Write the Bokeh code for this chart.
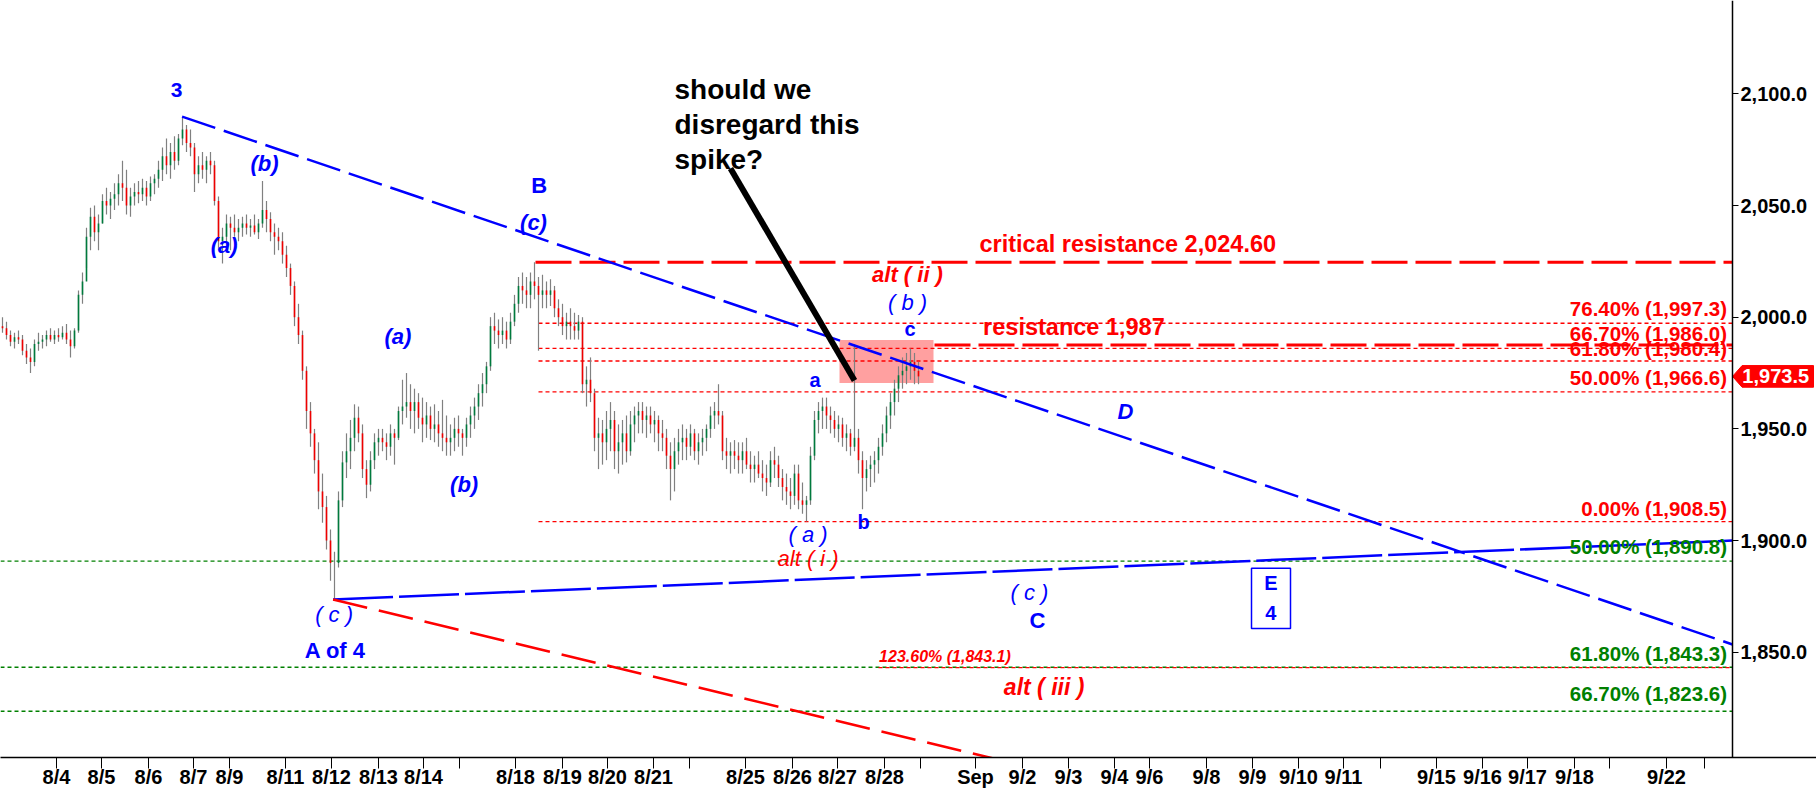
from bokeh.plotting import figure
from bokeh.models import Range1d, FixedTicker, NumeralTickFormatter, Label, ColumnDataSource
from bokeh.embed import file_html
from bokeh.resources import INLINE

# ---------------- data ----------------
first_open = 1996.0
high = [2000, 1998, 1994, 1993, 1994, 1992, 1988, 1986, 1990, 1993,
        1992, 1994, 1995, 1994, 1995, 1996, 1997, 1994, 1995, 2012,
        2020, 2040, 2049, 2050, 2046, 2055, 2058, 2056, 2060, 2064,
        2070, 2066, 2058, 2060, 2061, 2062, 2061, 2063, 2064, 2070,
        2076, 2080, 2078, 2081, 2082, 2089.4, 2086, 2084, 2078, 2072,
        2074, 2072, 2074, 2070, 2054, 2040, 2046, 2045, 2046, 2044,
        2045, 2046, 2044, 2046, 2044, 2061, 2052, 2047, 2042, 2040,
        2038, 2032, 2024, 2016, 2006, 1994, 1978, 1962, 1950, 1944,
        1930, 1920, 1905, 1895, 1922, 1940, 1948, 1954, 1961, 1960,
        1952, 1936, 1940, 1948, 1950, 1950, 1948, 1952, 1950, 1960,
        1972, 1975, 1970, 1968, 1966, 1964, 1962, 1960, 1961, 1958,
        1963, 1956, 1952, 1955, 1956, 1950, 1955, 1960, 1964, 1970,
        1975, 1980, 2000, 2002, 1999, 2000, 1998, 2002, 2010, 2018,
        2020, 2018, 2020, 2024.6, 2018, 2019, 2016, 2017, 2014, 2008,
        2006, 2002, 2004, 2002, 2001, 2000, 1978, 1982, 1968, 1955,
        1954, 1958, 1962, 1958, 1952, 1954, 1956, 1958, 1960, 1962,
        1962, 1960, 1960, 1958, 1956, 1954, 1950, 1944, 1946, 1950,
        1952, 1950, 1952, 1950, 1948, 1950, 1952, 1960, 1962, 1970,
        1958, 1946, 1944, 1945, 1944, 1944, 1946, 1940, 1938, 1940,
        1936, 1934, 1940, 1942, 1938, 1932, 1930, 1928, 1934, 1934,
        1926, 1920, 1942, 1958, 1962, 1964, 1964, 1960, 1958, 1956,
        1955, 1952, 1950, 1988, 1950, 1940, 1936, 1938, 1940, 1946,
        1952, 1960, 1966, 1972, 1978, 1982, 1984, 1986, 1984, 1980]
low = [1993, 1990, 1987, 1986, 1988, 1983, 1979, 1975, 1978, 1985,
       1986, 1987, 1989, 1988, 1989, 1990, 1988, 1982, 1986, 1993,
       2006, 2022, 2030, 2034, 2030, 2042, 2046, 2044, 2048, 2050,
       2052, 2046, 2045, 2050, 2051, 2052, 2050, 2052, 2055, 2058,
       2061, 2064, 2062, 2066, 2068, 2077, 2074, 2072, 2056, 2060,
       2062, 2060, 2064, 2050, 2030, 2024, 2032, 2030, 2036, 2034,
       2036, 2037, 2036, 2037, 2035, 2040, 2038, 2034, 2028, 2030,
       2024, 2018, 2010, 1996, 1988, 1972, 1950, 1942, 1930, 1914,
       1908, 1896, 1882, 1874, 1888, 1915, 1928, 1932, 1940, 1944,
       1928, 1919, 1922, 1932, 1938, 1940, 1936, 1938, 1934, 1945,
       1952, 1955, 1950, 1948, 1950, 1944, 1946, 1945, 1944, 1942,
       1940, 1938, 1938, 1940, 1942, 1938, 1942, 1946, 1950, 1954,
       1960, 1966, 1976, 1988, 1986, 1988, 1986, 1988, 1996, 2002,
       2006, 2004, 2004, 2008, 1985, 2004, 2004, 2005, 2000, 1996,
       1992, 1990, 1990, 1990, 1990, 1966, 1960, 1962, 1940, 1932,
       1934, 1936, 1940, 1932, 1930, 1934, 1935, 1938, 1944, 1948,
       1948, 1946, 1948, 1944, 1940, 1940, 1932, 1918, 1922, 1934,
       1936, 1936, 1938, 1936, 1934, 1938, 1940, 1946, 1950, 1952,
       1936, 1932, 1930, 1932, 1930, 1930, 1932, 1926, 1926, 1928,
       1922, 1920, 1924, 1928, 1924, 1918, 1916, 1914, 1916, 1914,
       1912, 1908.5, 1916, 1936, 1948, 1950, 1950, 1948, 1946, 1944,
       1942, 1940, 1938, 1940, 1930, 1914, 1922, 1924, 1926, 1930,
       1938, 1944, 1950, 1956, 1962, 1968, 1970, 1972, 1970, 1970]
close = [1995, 1992, 1989, 1991, 1990, 1985, 1982, 1980, 1988, 1989,
         1990, 1992, 1990, 1992, 1991, 1993, 1990, 1987, 1994, 2010,
         2016, 2036, 2045, 2038, 2042, 2052, 2050, 2053, 2055, 2060,
         2058, 2050, 2054, 2056, 2055, 2058, 2054, 2060, 2062, 2066,
         2072, 2068, 2074, 2070, 2080, 2084, 2078, 2076, 2064, 2068,
         2066, 2070, 2068, 2052, 2034, 2036, 2042, 2040, 2038, 2040,
         2042, 2040, 2041, 2038, 2042, 2048, 2044, 2038, 2036, 2034,
         2028, 2022, 2014, 2000, 1992, 1976, 1958, 1948, 1936, 1922,
         1915, 1900, 1890, 1890, 1918, 1935, 1940, 1946, 1955, 1948,
         1932, 1925, 1936, 1944, 1946, 1944, 1942, 1948, 1946, 1958,
         1960, 1962, 1958, 1962, 1955, 1952, 1956, 1950, 1952, 1948,
         1946, 1944, 1946, 1950, 1948, 1946, 1952, 1956, 1960, 1966,
         1970, 1978, 1996, 1994, 1992, 1994, 1990, 1998, 2006, 2014,
         2012, 2010, 2016, 2014, 2010, 2012, 2010, 2012, 2004, 2000,
         1996, 1998, 1996, 1994, 1998, 1970, 1972, 1966, 1946, 1948,
         1944, 1950, 1954, 1940, 1944, 1948, 1940, 1952, 1956, 1958,
         1954, 1956, 1952, 1954, 1948, 1946, 1938, 1932, 1940, 1944,
         1946, 1942, 1948, 1940, 1944, 1946, 1950, 1956, 1958, 1956,
         1940, 1938, 1940, 1938, 1936, 1940, 1934, 1932, 1934, 1930,
         1928, 1926, 1936, 1934, 1928, 1924, 1922, 1920, 1930, 1918,
         1916, 1918, 1938, 1954, 1958, 1960, 1956, 1954, 1950, 1952,
         1946, 1948, 1942, 1946, 1936, 1928, 1932, 1934, 1936, 1942,
         1948, 1956, 1962, 1968, 1974, 1976, 1978, 1980, 1976, 1973.5]

x_ticks = [13.5, 24.75, 36.5, 47.75, 56.75, 70.75, 82.25, 94, 105.25, 114.25,
           128.25, 140, 151.25, 162.75, 171.75, 185.75, 197.5, 208.75, 220.5, 229.5,
           243.25, 255, 266.5, 278, 286.75, 301, 312.5, 324, 335.25, 344.5,
           358.5, 370, 381.25, 393, 401.75, 416, 425.5]
x_tick_labels = ["8/4", "8/5", "8/6", "8/7", "8/9", "8/11", "8/12", "8/13", "8/14", "",
                 "8/18", "8/19", "8/20", "8/21", "", "8/25", "8/26", "8/27", "8/28", "",
                 "Sep", "9/2", "9/3", "9/4", "9/6", "9/8", "9/9", "9/10", "9/11", "",
                 "9/15", "9/16", "9/17", "9/18", "", "9/22", ""]
y_ticks = [1850, 1900, 1950, 2000, 2050, 2100]

red_fib_levels = [1997.3, 1986.0, 1980.4, 1966.6, 1908.5]
red_fib_texts = ["76.40% (1,997.3)", "66.70% (1,986.0)", "61.80% (1,980.4)",
                 "50.00% (1,966.6)", "0.00% (1,908.5)"]
green_fib_levels = [1890.8, 1843.3, 1823.6]
green_fib_texts = ["50.00% (1,890.8)", "61.80% (1,843.3)", "66.70% (1,823.6)"]
ext_level = 1843.1
critical_level = 2024.60
resistance_level = 1987.6
last_price = 1973.5

# ---------------- figure ----------------
X0, X1, XR = -0.5, 432.5, 453.5     # frame left, price-axis position, frame right
Y0, Y1 = 1802.9, 2141.77
p = figure(width=1816, height=796, x_range=Range1d(X0, XR), y_range=Range1d(Y0, Y1),
           output_backend="svg", toolbar_location=None, y_axis_location="right",
           min_border_left=0, min_border_top=0, min_border_right=0, min_border_bottom=39)
p.outline_line_color = None
p.xgrid.visible = False
p.ygrid.visible = False
p.background_fill_color = "white"

FONT = "Liberation Sans"
BLUE = "#0000FF"
RED = "#FF0000"
GREEN = "#008000"

# axes
p.xaxis.ticker = FixedTicker(ticks=x_ticks)
p.xaxis.major_label_overrides = {t: l for t, l in zip(x_ticks, x_tick_labels)}
p.yaxis.ticker = FixedTicker(ticks=y_ticks)
p.yaxis.formatter = NumeralTickFormatter(format="0,0.0")
p.yaxis.fixed_location = X1
for ax in (p.xaxis[0], p.yaxis[0]):
    ax.axis_line_color = "black"
    ax.axis_line_width = 1.5
    ax.major_tick_line_color = "black"
    ax.major_tick_line_width = 1
    ax.minor_tick_line_color = None
    ax.minor_tick_out = 0
    ax.minor_tick_in = 0
    ax.major_tick_in = 0
    ax.major_label_text_font = FONT
    ax.major_label_text_font_style = "bold"
    ax.major_label_text_font_size = "20px"
    ax.major_label_text_color = "black"
p.xaxis.major_tick_out = 11
p.xaxis.major_label_standoff = -3
p.yaxis.major_tick_out = 6
p.yaxis.major_label_standoff = 2

# pink box (under bars)
p.quad(left=[209.25], right=[232.75], bottom=[1970.6], top=[1989.8],
       fill_color="#FF6060", fill_alpha=0.6, line_color=None)

# horizontal fib lines
p.segment(x0=[134.0] * len(red_fib_levels), x1=[X1] * len(red_fib_levels),
          y0=red_fib_levels, y1=red_fib_levels, line_color=RED, line_width=1.3, line_dash="4 3")
p.segment(x0=[X0] * len(green_fib_levels), x1=[X1] * len(green_fib_levels),
          y0=green_fib_levels, y1=green_fib_levels, line_color=GREEN, line_width=1.3, line_dash="4 3")
p.segment(x0=[219.0], x1=[X1], y0=[ext_level], y1=[ext_level],
          line_color=RED, line_width=1.3, line_dash="4 3")

# bars
n = len(close)
xs = list(range(n))
opens = [first_open] + close[:-1]
body_col = ["#007A3D" if c >= o else "#EE0000" for o, c in zip(opens, close)]
src = ColumnDataSource(dict(x=xs, h=high, l=low, o=opens, c=close, col=body_col))
p.segment(x0="x", x1="x", y0="l", y1="h", source=src, line_color="#808080", line_width=1.2)
p.segment(x0="x", x1="x", y0="o", y1="c", source=src, line_color="col", line_width=1.6)

# resistance lines
p.line([133.25, X1], [critical_level, critical_level], line_color=RED, line_width=3, line_dash="36 8")
p.line([233.0, X1], [resistance_level, resistance_level], line_color=RED, line_width=3, line_dash="36 8")

# trend lines
p.line([44.9, X1], [2089.8, 1853.5], line_color=BLUE, line_width=2.5, line_dash="35 9")
p.line([82.65, X1], [1873.6, 1900.0], line_color=BLUE, line_width=2.5, line_dash="60 6")
p.line([82.65, 250.0], [1873.6, 1801.5], line_color=RED, line_width=2.5, line_dash="35 12")

# black pointer line
p.line([182.0, 213.0], [2066.6, 1971.7], line_color="black", line_width=6)

# E 4 box
p.quad(left=[312.25], right=[322.0], bottom=[1860.7], top=[1887.6],
       fill_color="white", line_color=BLUE, line_width=1.5)

# last price tag on the price axis
p.patch([X1, 434.9, 452.75, 452.75, 434.9],
        [last_price, last_price + 4.85, last_price + 4.85, last_price - 4.85, last_price - 4.85],
        fill_color=RED, line_color=RED)


def lab(x, y, text, color, size, style="bold", align="center", baseline="middle"):
    p.add_layout(Label(x=x, y=y, text=text, text_color=color, text_font=FONT,
                       text_font_size=size, text_font_style=style,
                       text_align=align, text_baseline=baseline))


lab(443.3, last_price, f"{last_price:,.1f}", "white", "20px")

# wave labels
lab(43.5, 2101.9, "3", BLUE, "21px")
lab(65.5, 2068.8, "(b)", BLUE, "22px", "bold italic")
lab(55.4, 2032.3, "(a)", BLUE, "22px", "bold italic")
lab(134.2, 2058.8, "B", BLUE, "22px")
lab(132.75, 2042.2, "(c)", BLUE, "22px", "bold italic")
lab(98.85, 1991.4, "(a)", BLUE, "22px", "bold italic")
lab(115.4, 1925.0, "(b)", BLUE, "22px", "bold italic")
lab(82.9, 1866.9, "( c )", BLUE, "22px", "italic")
lab(83.2, 1850.9, "A of 4", BLUE, "22px")
lab(226.25, 2019.3, "alt ( ii )", RED, "22px", "bold italic")
lab(226.25, 2006.4, "( b )", BLUE, "22px", "italic")
lab(226.9, 1994.5, "c", BLUE, "20px")
lab(203.15, 1972.0, "a", BLUE, "20px")
lab(215.3, 1908.4, "b", BLUE, "20px")
lab(201.4, 1902.6, "( a )", BLUE, "22px", "italic")
lab(201.4, 1891.8, "alt ( i )", RED, "22px", "italic")
lab(256.75, 1876.8, "( c )", BLUE, "22px", "italic")
lab(258.75, 1864.3, "C", BLUE, "22px")
lab(280.75, 1957.8, "D", BLUE, "22px", "bold italic")
lab(260.4, 1834.3, "alt ( iii )", RED, "23px", "bold italic")
lab(317.1, 1880.8, "E", BLUE, "20px")
lab(317.1, 1867.8, "4", BLUE, "20px")
lab(219.15, 1848.2, "123.60% (1,843.1)", RED, "16px", "bold italic", "left")
lab(244.25, 2032.8, "critical resistance 2,024.60", RED, "23.5px", "bold", "left")
lab(245.15, 1995.5, "resistance 1,987", RED, "23.5px", "bold", "left")
lab(168.0, 2101.9, "should we", "black", "28px", "bold", "left")
lab(168.0, 2086.2, "disregard this", "black", "28px", "bold", "left")
lab(168.0, 2070.6, "spike?", "black", "28px", "bold", "left")

red_y = [2003.9, 1992.8, 1985.9, 1972.9, 1914.4]
for yy, t in zip(red_y, red_fib_texts):
    lab(431.15, yy, t, RED, "20.5px", "bold", "right")
green_y = [1897.5, 1849.6, 1831.6]
for yy, t in zip(green_y, green_fib_texts):
    lab(431.15, yy, t, GREEN, "20.5px", "bold", "right")

open("out.html", "w").write(file_html(p, INLINE))
